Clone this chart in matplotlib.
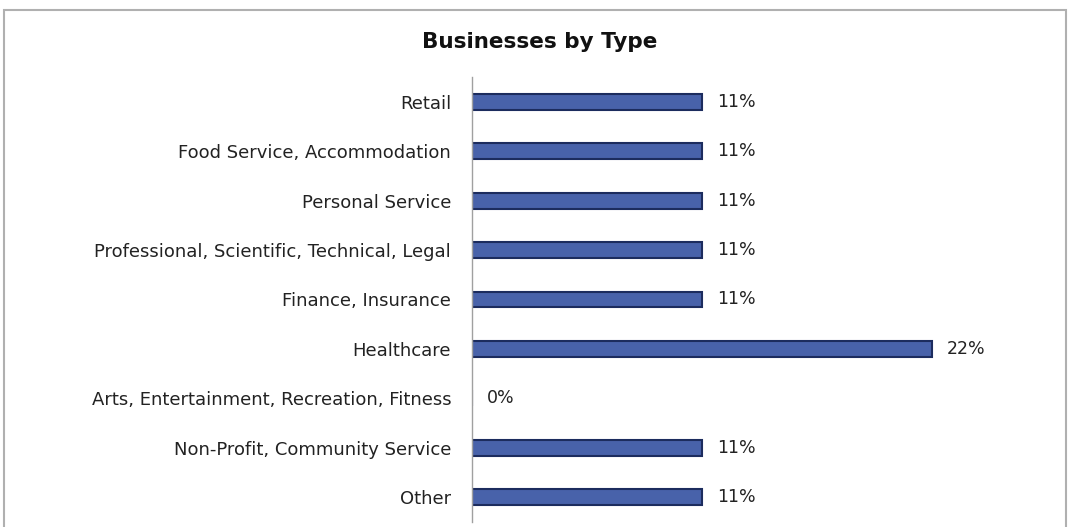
import matplotlib.pyplot as plt
from matplotlib.patches import Rectangle

categories = [
    "Retail",
    "Food Service, Accommodation",
    "Personal Service",
    "Professional, Scientific, Technical, Legal",
    "Finance, Insurance",
    "Healthcare",
    "Arts, Entertainment, Recreation, Fitness",
    "Non-Profit, Community Service",
    "Other",
]
shares = [0.11, 0.11, 0.11, 0.11, 0.11, 0.22, 0.00, 0.11, 0.11]

plt.rcParams['font.family'] = ['DejaVu Sans']

fig = plt.figure(figsize=(10.7, 5.27), dpi=100)
ax = fig.add_axes([472 / 1070, 5 / 527, 565 / 1070, 445 / 527])

y = list(range(len(categories)))
ax.barh(y, shares, height=0.32, color='#4862aa', edgecolor='#1c2c5e', linewidth=1.5)

for yi, v in zip(y, shares):
    ax.text(v + 0.007, yi, f"{v:.0%}", va='center', ha='left', fontsize=12.5, color='#222222')

ax.set_yticks(y)
ax.set_yticklabels(categories, fontsize=13, color='#222222')
ax.tick_params(axis='y', length=0, pad=15)
ax.set_ylim(len(categories) - 0.5, -0.5)
ax.set_xlim(0, 0.27)
ax.set_xticks([])

for side in ['top', 'right', 'bottom']:
    ax.spines[side].set_visible(False)
ax.spines['left'].set_color('#a0a0a0')
ax.spines['left'].set_linewidth(1.0)

fig.text(540 / 1070, 1 - 42 / 527, "Businesses by Type", ha='center', va='center',
         fontsize=15.5, fontweight='bold', color='#111111')

# chart-area border
fig.patches.append(Rectangle((4 / 1070, -0.05), 1062 / 1070, 1 - 10 / 527 + 0.05,
                             transform=fig.transFigure, fill=False,
                             edgecolor='#b0b0b0', linewidth=1.5))

fig.savefig("out.png", dpi=100)
